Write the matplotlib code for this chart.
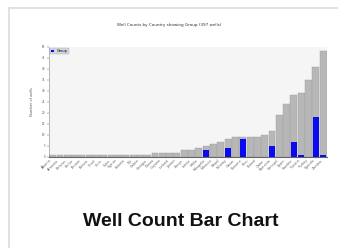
import matplotlib
matplotlib.use("Agg")
import matplotlib.pyplot as plt
from matplotlib.lines import Line2D

# Countries sorted by total well count (labels are illegible in the thumbnail)
countries = [
    "Albania", "Armenia", "Belarus", "Belize", "Bhutan", "Bolivia", "Chad",
    "Chile", "Cuba", "Cyprus", "Estonia", "Fiji", "Gabon", "Georgia",
    "Ghana", "Guyana", "Iceland", "Jordan", "Kenya", "Latvia", "Malta",
    "Mongolia", "Morocco", "Nepal", "Norway", "Oman", "Panama", "Peru",
    "Poland", "Qatar", "Romania", "Senegal", "Spain", "Sweden", "Tunisia",
    "Turkey", "Uganda", "Zambia",
]
total_wells = [1, 1, 1, 1, 1, 1, 1, 1, 1, 1, 1, 1, 1, 1,
               2, 2, 2, 2, 3, 3, 4, 5, 6, 7, 8, 9, 9, 9, 9, 10,
               12, 19, 24, 28, 29, 35, 41, 48]
group_wells = [0, 0, 0, 0, 0, 0, 0, 0, 0, 0, 0, 0, 0, 0,
               0, 0, 0, 0, 0, 0, 0, 3, 0, 0, 4, 0, 8, 0, 0, 0,
               5, 0, 0, 7, 1, 0, 18, 1]

fig = plt.figure(figsize=(3.38, 2.48), dpi=100)
fig.patch.set_facecolor("white")

# card border (only top and left edges visible)
top = 1 - 8 / 248
left = 9 / 338
fig.lines.append(Line2D([left, 1], [top, top], transform=fig.transFigure,
                        color="#dcdcdc", linewidth=1.2))
fig.lines.append(Line2D([left, left], [0, top], transform=fig.transFigure,
                        color="#dcdcdc", linewidth=1.2))

ax = fig.add_axes([0.145, 0.367, 0.822, 0.444])
ax.set_facecolor("#f5f5f5")

x = range(len(countries))
ax.bar(x, total_wells, width=0.95, color="#b7b7b7", edgecolor="#a0a0a0",
       linewidth=0.3)
ax.bar(x, group_wells, width=0.8, color="#0a0af0", label="Group")

ax.set_xlim(-0.5, len(countries) - 0.5)
ax.set_ylim(0, 50)
ax.set_yticks(range(0, 51, 5))
ax.tick_params(axis="y", labelsize=2, length=1.5, width=0.3, pad=1,
               colors="#555555")
ax.set_xticks(list(x))
ax.set_xticklabels(countries, rotation=45, ha="right", fontsize=2.4,
                   color="#666666")
ax.tick_params(axis="x", length=0, pad=1)
ax.set_ylabel("Number of wells", fontsize=2.5, labelpad=6, color="#555555")
for s in ["top", "right"]:
    ax.spines[s].set_visible(False)
ax.spines["left"].set_linewidth(0.4)
ax.spines["left"].set_color("#888888")
ax.spines["bottom"].set_linewidth(0.8)
ax.spines["bottom"].set_color("#666666")

leg = ax.legend(loc="upper left", fontsize=2.5, frameon=True, handlelength=0.8,
                handleheight=0.8, borderpad=0.3, borderaxespad=0.4)
leg.get_frame().set_facecolor("#c8d0dc")
leg.get_frame().set_edgecolor("#999999")
leg.get_frame().set_linewidth(0.3)

fig.text(0.5, 1 - 25 / 248, "Well Counts by Country showing Group (397 wells)",
         ha="center", va="center", fontsize=3, color="#333333")

fig.text(0.535, 1 - 221 / 248, "Well Count Bar Chart", ha="center",
         va="center", fontsize=14, fontweight="bold", family="Liberation Sans",
         color="#111111")

fig.savefig("out.png", dpi=100)
